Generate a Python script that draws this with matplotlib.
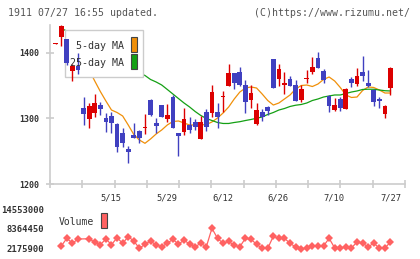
import numpy as np
import matplotlib
matplotlib.use("Agg")
import matplotlib.pyplot as plt
from matplotlib.patches import Rectangle

W, H = 420, 259
nan = np.nan

# 1911 daily candles, 2023-04-28 .. 2023-07-27 (61 sessions)
opens = [1413.5, 1424.4, 1421.3, 1372.1, 1380.2, 1315.3, 1298.6, 1308.6, 1320.3, 1301.0,
         1303.6, 1291.4, 1278.2, 1253.3, 1274.7, 1280.7, 1284.6, 1328.0, 1293.4, 1320.3,
         1298.6, 1333.0, 1278.2, 1279.7, 1289.9, 1294.0, 1268.1, 1309.2, 1307.7, 1309.2,
         1332.0, 1349.7, 1368.6, 1370.1, 1350.8, 1328.0, 1291.4, 1309.2, 1316.8, 1390.4,
         1359.9, 1350.8, 1359.5, 1350.8, 1328.0, 1360.2, 1371.1, 1391.5, 1372.1, 1334.1,
         1312.7, 1329.5, 1314.3, 1359.5, 1352.3, 1370.1, 1353.4, 1343.2, 1329.5, 1306.6,
         1346.7]
highs = [1415.0, 1442.2, 1421.3, 1382.3, 1399.1, 1333.0, 1322.9, 1337.1, 1324.9, 1308.6,
         1309.2, 1292.5, 1284.9, 1258.4, 1292.9, 1282.0, 1306.6, 1329.0, 1301.0, 1321.0,
         1321.9, 1335.0, 1278.2, 1315.3, 1302.5, 1299.0, 1303.6, 1313.8, 1350.8, 1322.9,
         1341.7, 1382.8, 1369.0, 1378.7, 1358.4, 1350.8, 1322.9, 1313.8, 1319.3, 1390.4,
         1382.8, 1370.1, 1365.0, 1358.4, 1350.8, 1373.7, 1393.0, 1400.6, 1375.2, 1335.6,
         1330.6, 1333.0, 1346.0, 1362.5, 1376.2, 1395.0, 1373.7, 1344.7, 1333.0, 1320.3,
         1378.7]
lows = [1413.5, 1410.7, 1381.3, 1357.4, 1367.6, 1289.9, 1284.9, 1302.5, 1305.1, 1279.7,
        1277.2, 1248.3, 1256.8, 1231.6, 1270.1, 1262.0, 1276.2, 1304.0, 1277.2, 1302.0,
        1294.9, 1285.0, 1243.1, 1275.4, 1277.2, 1282.3, 1268.1, 1280.7, 1302.5, 1285.8,
        1310.1, 1349.0, 1344.7, 1349.3, 1307.7, 1315.3, 1289.9, 1296.0, 1305.1, 1346.7,
        1349.3, 1337.1, 1349.0, 1326.0, 1325.4, 1353.4, 1367.1, 1376.0, 1353.4, 1309.2,
        1311.2, 1311.7, 1314.0, 1347.3, 1349.3, 1357.4, 1347.3, 1319.5, 1315.3, 1300.1,
        1335.6]
closes = [1415.0, 1440.7, 1383.9, 1380.2, 1373.7, 1306.6, 1318.8, 1322.9, 1314.3, 1294.9,
          1292.5, 1256.8, 1262.9, 1248.3, 1270.5, 1270.1, 1286.4, 1305.1, 1288.8, 1302.5,
          1305.1, 1285.8, 1273.6, 1298.6, 1282.3, 1287.3, 1294.0, 1287.3, 1339.7, 1302.5,
          1333.5, 1368.6, 1353.4, 1350.8, 1325.4, 1338.2, 1312.7, 1302.5, 1311.2, 1346.7,
          1375.2, 1353.4, 1349.3, 1326.9, 1344.7, 1361.8, 1377.8, 1376.2, 1358.4, 1319.3,
          1320.3, 1316.2, 1344.7, 1354.3, 1364.5, 1364.5, 1349.3, 1325.4, 1326.4, 1318.8,
          1377.2]

ma5 = [nan, nan, nan, nan, 1407.2, 1390.4, 1373.7, 1356.9, 1340.9, 1326.4,
       1312.7, 1308.9, 1303.6, 1289.9, 1275.4, 1267.0, 1262.0, 1268.6, 1276.2, 1282.3,
       1289.9, 1295.2, 1296.0, 1292.9, 1289.9, 1289.9, 1290.0, 1290.6, 1294.5, 1300.5,
       1308.2, 1317.3, 1329.5, 1340.1, 1346.2, 1347.8, 1346.2, 1337.1, 1327.2, 1320.3,
       1323.4, 1329.5, 1335.6, 1344.7, 1350.0, 1350.8, 1348.5, 1352.3, 1359.2, 1363.0,
       1356.9, 1347.0, 1335.6, 1331.8, 1332.5, 1342.4, 1347.8, 1347.0, 1343.2, 1338.6,
       1338.6]
ma25 = [nan, 1436.9, 1433.0, 1428.5, 1423.1, 1417.8, 1413.3, 1407.9, 1403.4, 1398.0,
        1393.5, 1388.1, 1382.8, 1378.2, 1373.7, 1369.1, 1365.3, 1359.2, 1355.4, 1350.8,
        1344.0, 1337.1, 1330.2, 1323.4, 1317.3, 1310.4, 1304.4, 1299.8, 1296.7, 1293.7,
        1292.2, 1292.2, 1293.7, 1294.9, 1296.7, 1298.3, 1300.1, 1302.1, 1305.9, 1308.9,
        1312.7, 1315.0, 1318.1, 1320.0, 1321.1, 1323.4, 1327.2, 1329.5, 1332.5, 1334.1,
        1335.6, 1335.6, 1337.9, 1340.1, 1341.7, 1344.0, 1344.4, 1344.3, 1343.2, 1342.1,
        1341.7]

volume = [nan, 3020000, 5440000, 3870000, 5220000, nan, 5300000, 4190000, 3450000, 5220000,
          3450000, 5630000, 3870000, 5950000, 4590000, 2300000, 3560000, 4590000, 3340000, 2800000,
          3870000, 5130000, 3560000, 4910000, 3560000, 2800000, 3870000, 2800000, 8580000, 5440000,
          3870000, 4500000, 3200000, 2800000, 5440000, 5130000, 3560000, 2300000, 2300000, 6050000,
          5440000, 5440000, 3870000, 2700000, 2200000, 2300000, 3070000, 3020000, 3020000, 5440000,
          2400000, 2400000, 2700000, 2400000, 4280000, 3960000, 2700000, 3960000, 2300000, 2400000,
          4280000]

date_labels = ["5/15", "5/29", "6/12", "6/26", "7/10", "7/27"]
date_index = [8, 18, 28, 38, 48, 60]
price_ticks = [1200, 1300, 1400]
vol_ticks = [2175900, 8364450, 14553000]

RED = "#dc0000"
BLUE = "#4040c0"
ORANGE = "#f0900a"
GREEN = "#14a014"
VOLC = "#ff6262"
GRID = "#cccccc"
TXT = "#333333"
MONO = "DejaVu Sans Mono"

fig = plt.figure(figsize=(W / 100, H / 100), dpi=100)
fig.patch.set_facecolor("white")


def frect(x0, y0, x1, y1, **kw):
    # rectangle given in pixel coords (top-left origin)
    return Rectangle((x0 / W, 1 - y1 / H), (x1 - x0) / W, (y1 - y0) / H,
                     transform=fig.transFigure, clip_on=False, **kw)


ax = fig.add_axes([50 / W, 1 - 184 / H, 355 / W, 159 / H])
x = np.arange(len(closes))
o = np.array(opens)
c = np.array(closes)
up = c >= o
cols = np.where(up, RED, BLUE)

ax.plot(x, ma5, color=ORANGE, lw=0.9, zorder=2)
ax.plot(x, ma25, color=GREEN, lw=0.9, zorder=2)

ax.vlines(x, lows, highs, colors=cols, lw=1.0, zorder=4)
ax.bar(x, np.abs(c - o), bottom=np.minimum(o, c), width=0.85, color=cols,
       linewidth=0, zorder=4)

xl = (-1.02, 62.6)
ax.set_xlim(*xl)
ax.set_ylim(1200, 1442.2)
for s in ["top", "right"]:
    ax.spines[s].set_visible(False)
for s in ["left", "bottom"]:
    ax.spines[s].set_color(GRID)
    ax.spines[s].set_linewidth(1.2)
ax.set_xticks(np.linspace(xl[0], xl[1], 12))
ax.set_xticklabels([])
ax.set_yticks(price_ticks)
ax.set_yticklabels([str(p) for p in price_ticks], fontsize=6, family=MONO,
                   color=TXT, fontweight="bold")
ax.tick_params(axis="both", direction="inout", length=6, width=1.2, color=GRID)
ax.tick_params(axis="y", pad=4.5)

for lab, i in zip(date_labels, date_index):
    ha = "center" if i == date_index[-1] else "left"
    ax.text(i, -0.09, lab, transform=ax.get_xaxis_transform(), ha=ha, va="center",
            fontsize=6.3, family=MONO, color=TXT)

# legend box for the moving averages
ax.add_artist(frect(65, 30, 143, 77, facecolor="white", edgecolor=GRID, lw=1.0, zorder=3))
ax.add_artist(frect(131, 36.7, 137.3, 52.3, facecolor=ORANGE, edgecolor="#444444",
                    lw=0.8, zorder=5))
ax.add_artist(frect(131, 54.3, 137.3, 69.3, facecolor=GREEN, edgecolor="#444444",
                    lw=0.8, zorder=5))
ax.text(124 / W, 1 - 46 / H, "5-day MA", transform=fig.transFigure, ha="right",
        va="center", fontsize=7.2, family=MONO, color=TXT, zorder=5)
ax.text(124 / W, 1 - 62.5 / H, "25-day MA", transform=fig.transFigure, ha="right",
        va="center", fontsize=7.2, family=MONO, color=TXT, zorder=5)

# volume panel
vax = fig.add_axes([50 / W, 1 - 252 / H, 355 / W, 47 / H])
v = np.array(volume)
ok = ~np.isnan(v)
vax.plot(x[ok], v[ok], color=VOLC, lw=0.9, marker="D", markersize=4.3,
         markeredgewidth=0, clip_on=False)
vax.set_xlim(*xl)
vpp = (vol_ticks[-1] - vol_ticks[0]) / 39.4
vax.set_ylim(vol_ticks[0] - 3.3 * vpp, vol_ticks[-1] + 4.3 * vpp)
for s in vax.spines.values():
    s.set_visible(False)
vax.set_xticks([])
vax.set_yticks(vol_ticks)
vax.set_yticklabels([str(t) for t in vol_ticks], fontsize=6.4, family=MONO,
                    color=TXT, fontweight="bold")
vax.tick_params(axis="y", length=0, pad=4.5)
vax.patch.set_alpha(0)

fig.text(58.3 / W, 1 - 222 / H, "Volume", ha="left", va="center", fontsize=7,
         family=MONO, color=TXT)
fig.patches.append(frect(100.7, 213.3, 107.3, 228.3, facecolor=VOLC,
                         edgecolor="#444444", lw=0.8))

fig.text(8 / W, 1 - 12.5 / H, "1911 07/27 16:55 updated.", ha="left", va="center",
         fontsize=7.1, family=MONO, color="#555555")
fig.text(410 / W, 1 - 12.5 / H, "(C)https://www.rizumu.net/", ha="right",
         va="center", fontsize=7.1, family=MONO, color="#555555")

fig.savefig("out.png", dpi=100, facecolor="white")
